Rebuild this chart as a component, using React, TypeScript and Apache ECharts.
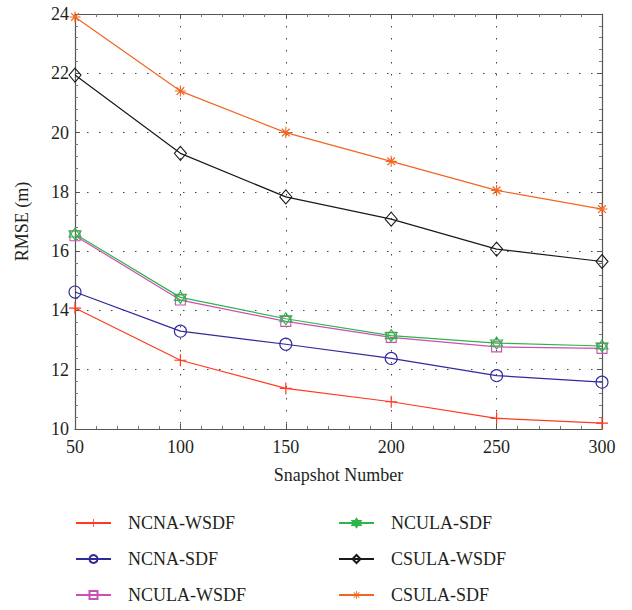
import React, { useEffect, useRef } from "react";
import * as echarts from "echarts";

const snapshots = [50, 100, 150, 200, 250, 300];
const ncnaWsdf = [14.08, 12.32, 11.37, 10.92, 10.36, 10.2];
const ncnaSdf = [14.62, 13.3, 12.86, 12.38, 11.8, 11.58];
const nculaWsdf = [16.52, 14.35, 13.63, 13.09, 12.77, 12.72];
const nculaSdf = [16.58, 14.44, 13.72, 13.15, 12.9, 12.8];
const csulaWsdf = [21.94, 19.3, 17.83, 17.08, 16.07, 15.65];
const csulaSdf = [23.9, 21.4, 20.0, 19.03, 18.05, 17.42];

const FONT = "Liberation Serif";
const TEXT = "#231f20";

const PLUS = "path://M4.5,0H5.5V10H4.5Z M0,4.5H10V5.5H0Z";
const ASTER =
  "path://M4.5,0H5.5V10H4.5Z M0,4.5H10V5.5H0Z M1.1,1.9L1.9,1.1L8.9,8.1L8.1,8.9Z M8.1,1.1L8.9,1.9L1.9,8.9L1.1,8.1Z";
const HEX = "path://M5,0L9.33,7.5L0.67,7.5Z M5,10L0.67,2.5L9.33,2.5Z";

export default function App() {
  const ref = useRef<HTMLDivElement>(null);
  useEffect(() => {
    if (!ref.current) return;
    const chart = echarts.init(ref.current, undefined, { renderer: "svg" });
    const mk = (
      name: string,
      data: number[],
      color: string,
      symbol: string,
      size: number | number[],
      filled: boolean
    ) => ({
      name,
      type: "line",
      data: snapshots.map((s, i) => [s, data[i]]),
      symbol,
      symbolSize: size,
      showAllSymbol: true,
      lineStyle: { color, width: 1.2 },
      itemStyle: filled
        ? { color, borderColor: color, borderWidth: 0 }
        : { color: "rgba(255,255,255,0)", borderColor: color, borderWidth: 1.1 },
      emphasis: { disabled: true },
      z: 3,
    });
    const axisLine = { show: true, lineStyle: { color: "#555", width: 1.2 } };
    const tick = { show: true, inside: true, length: 5, lineStyle: { color: "#555" } };
    const minor = { show: true, splitNumber: 5, length: 3, lineStyle: { color: "#777" } };
    const label = { fontFamily: FONT, fontSize: 18, color: TEXT };
    const legendText = { fontFamily: FONT, fontSize: 18, color: TEXT, lineHeight: 18, padding: [0, 0, 0, 12] };
    chart.setOption({
      animation: false,
      backgroundColor: "#fff",
      grid: { left: 75, top: 14, right: 30, bottom: 181, containLabel: false },
      xAxis: [
        {
          type: "value",
          min: 50,
          max: 300,
          interval: 50,
          position: "bottom",
          axisLine,
          axisTick: tick,
          minorTick: minor,
          axisLabel: { ...label, margin: 9 },
          splitLine: { show: true, lineStyle: { color: "#444", type: [1.5, 10.5], width: 1 } },
          name: "Snapshot Number",
          nameLocation: "middle",
          nameGap: 37,
          nameTextStyle: { fontFamily: FONT, fontSize: 18, color: TEXT },
        },
        {
          type: "value",
          min: 50,
          max: 300,
          interval: 50,
          position: "top",
          axisLine,
          axisTick: tick,
          minorTick: minor,
          axisLabel: { show: false },
          splitLine: { show: false },
        },
      ],
      yAxis: [
        {
          type: "value",
          min: 10,
          max: 24,
          interval: 2,
          position: "left",
          axisLine,
          axisTick: tick,
          minorTick: minor,
          axisLabel: { ...label, margin: 6 },
          splitLine: { show: true, lineStyle: { color: "#444", type: [1.5, 10.5], width: 1 } },
          name: "RMSE (m)",
          nameLocation: "middle",
          nameGap: 44,
          nameRotate: 90,
          nameTextStyle: { fontFamily: FONT, fontSize: 18, color: TEXT },
        },
        {
          type: "value",
          min: 10,
          max: 24,
          interval: 2,
          position: "right",
          axisLine,
          axisTick: tick,
          minorTick: minor,
          axisLabel: { show: false },
          splitLine: { show: false },
        },
      ],
      legend: [
        {
          left: 75,
          top: 514,
          padding: 0,
          height: 96,
          orient: "vertical",
          itemWidth: 35,
          itemHeight: 10,
          itemGap: 18,
          data: ["NCNA-WSDF", "NCNA-SDF", "NCULA-WSDF"],
          textStyle: legendText,
        },
        {
          left: 338,
          top: 514,
          padding: 0,
          height: 96,
          orient: "vertical",
          itemWidth: 35,
          itemHeight: 10,
          itemGap: 18,
          data: ["NCULA-SDF", "CSULA-WSDF", "CSULA-SDF"],
          textStyle: legendText,
        },
      ],
      series: [
        mk("NCNA-WSDF", ncnaWsdf, "#ff3a1f", PLUS, 12, true),
        mk("NCNA-SDF", ncnaSdf, "#2f2a9c", "circle", 12, false),
        mk("NCULA-WSDF", nculaWsdf, "#cc4fb3", "rect", 10, false),
        mk("NCULA-SDF", nculaSdf, "#2db54a", HEX, 12, false),
        mk("CSULA-WSDF", csulaWsdf, "#1a1a1a", "diamond", [12, 14], false),
        mk("CSULA-SDF", csulaSdf, "#f26522", ASTER, 11, true),
      ],
    });
    return () => chart.dispose();
  }, []);
  return <div ref={ref} style={{ width: 632, height: 610, position: "absolute", left: 0, top: 0 }} />;
}
